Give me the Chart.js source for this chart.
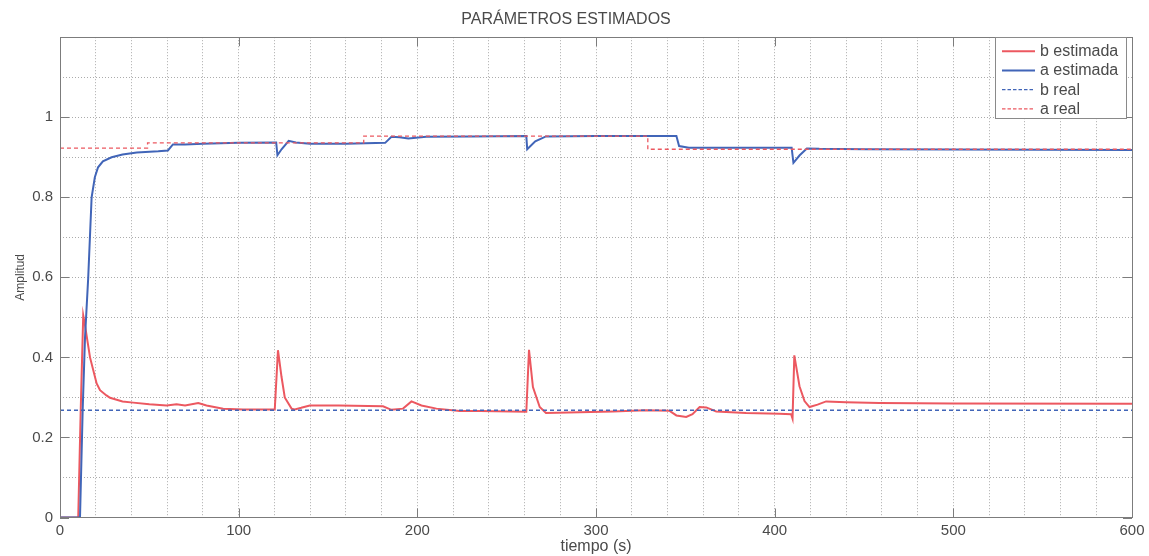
<!DOCTYPE html>
<html>
<head>
<meta charset="utf-8">
<script src="https://cdn.jsdelivr.net/npm/chart.js@4/dist/chart.umd.min.js"></script>
<style>
  html, body { margin: 0; padding: 0; background: #ffffff; }
  #wrap { width: 1149px; height: 556px; }
</style>
</head>
<body>
<div id="wrap"><canvas id="c" width="1149" height="556"></canvas></div>
<script>
// Estimated parameter b (time in s, amplitude)
const tBEst = [0, 10.2, 11.6, 13, 14, 16.8, 20.5, 22.4, 26, 28, 35, 41, 50, 59.7, 65.2, 70, 77.4, 82, 91.3, 102.5,
  120.2, 122, 124, 125.8, 129.6, 131.4, 135, 139.8, 156, 180.8, 185.5, 192, 196.7, 202.3, 210.7, 223.7, 235,
  261, 262.5, 264.7, 268.5, 272, 290.8, 309.5, 328, 341, 345, 350.5, 354, 358, 361.7, 367.3, 384, 402.7,
  409.2, 410, 411, 413.9, 416.7, 419.5, 424, 428.8, 440, 458.6, 500, 600];
const bEst = [0, 0, 0.27, 0.505, 0.48, 0.40, 0.335, 0.318, 0.305, 0.299, 0.29, 0.287, 0.283, 0.28, 0.283, 0.28, 0.286, 0.28, 0.272, 0.27,
  0.27, 0.418, 0.351, 0.30, 0.272, 0.27, 0.274, 0.28, 0.28, 0.278, 0.269, 0.272, 0.29, 0.28, 0.272, 0.266, 0.266,
  0.264, 0.419, 0.326, 0.276, 0.261, 0.263, 0.265, 0.268, 0.267, 0.255, 0.251, 0.258, 0.276, 0.275, 0.265, 0.261, 0.259,
  0.258, 0.247, 0.405, 0.328, 0.291, 0.276, 0.282, 0.29, 0.288, 0.286, 0.285, 0.284];

// Estimated parameter a
const tAEst = [0, 11.2, 12.7, 14, 15.8, 17.7, 19.5, 21.3, 24, 28.9, 35, 43, 55, 60.4, 63.2, 70, 80, 100,
  121, 121.7, 124, 128, 132, 140, 160, 182, 185.5, 190, 195, 205, 230,
  261, 261.5, 266, 272, 300, 345, 346.5, 352, 380, 409.5, 410.5, 414, 418, 425, 450, 600];
const aEst = [0, 0, 0.27, 0.45, 0.6, 0.8, 0.85, 0.875, 0.89, 0.9, 0.907, 0.912, 0.915, 0.917, 0.932, 0.932, 0.934, 0.936,
  0.937, 0.905, 0.92, 0.941, 0.937, 0.934, 0.934, 0.936, 0.951, 0.95, 0.947, 0.951, 0.952,
  0.953, 0.92, 0.94, 0.952, 0.953, 0.953, 0.928, 0.924, 0.924, 0.924, 0.886, 0.905, 0.922, 0.921, 0.92, 0.918];

// True parameter values (piecewise constant)
const tBReal = [0, 600];
const bReal = [0.268, 0.268];
const tAReal = [0, 49, 49, 170, 170, 329, 329, 600];
const aReal = [0.923, 0.923, 0.936, 0.936, 0.953, 0.953, 0.92, 0.92];

const seriesNames = ['b estimada', 'a estimada', 'b real', 'a real'];
const xTickLabels = [0, 100, 200, 300, 400, 500, 600];
const yTickLabels = [0, 0.2, 0.4, 0.6, 0.8, 1];

const RED = '#ec5860';
const BLUE = '#4165b8';
const AXIS = '#7c7c7c';
const TEXT = '#4a4a4a';
const FONT = '"Liberation Sans", Arial, Helvetica, sans-serif';

const pts = (xs, ys) => xs.map((x, i) => ({ x: x, y: ys[i] }));

const styles = [
  { color: RED, dash: [], width: 2 },
  { color: BLUE, dash: [], width: 2 },
  { color: BLUE, dash: [4, 3], width: 1.3 },
  { color: RED, dash: [4, 3], width: 1.3 }
];

const datasets = [
  { label: seriesNames[0], data: pts(tBEst, bEst), order: 3 },
  { label: seriesNames[1], data: pts(tAEst, aEst), order: 2 },
  { label: seriesNames[2], data: pts(tBReal, bReal), order: 1 },
  { label: seriesNames[3], data: pts(tAReal, aReal), order: 0 }
].map((d, i) => Object.assign(d, {
  borderColor: styles[i].color,
  borderWidth: styles[i].width,
  borderDash: styles[i].dash,
  pointRadius: 0,
  tension: 0,
  fill: false
}));

// Box around the plot area with inward tick marks at the labelled values
const boxPlugin = {
  id: 'box',
  afterDatasetsDraw(chart) {
    const { ctx, chartArea: a, scales: { x, y } } = chart;
    ctx.save();
    ctx.strokeStyle = AXIS;
    ctx.lineWidth = 1;
    ctx.setLineDash([]);
    ctx.strokeRect(Math.round(a.left) + 0.5, Math.round(a.top) + 0.5,
      Math.round(a.right - a.left), Math.round(a.bottom - a.top));
    const L = 9;
    ctx.beginPath();
    xTickLabels.forEach(v => {
      const px = Math.round(x.getPixelForValue(v)) + 0.5;
      ctx.moveTo(px, a.bottom); ctx.lineTo(px, a.bottom - L);
      ctx.moveTo(px, a.top); ctx.lineTo(px, a.top + L);
    });
    yTickLabels.forEach(v => {
      const py = Math.round(y.getPixelForValue(v)) + 0.5;
      ctx.moveTo(a.left, py); ctx.lineTo(a.left + L, py);
      ctx.moveTo(a.right, py); ctx.lineTo(a.right - L, py);
    });
    ctx.stroke();
    ctx.restore();
  }
};

// Legend box in the upper right corner of the plot
const legendPlugin = {
  id: 'boxLegend',
  afterDraw(chart) {
    const { ctx, chartArea: a } = chart;
    const bx = a.right - 137, by = a.top, bw = 131, bh = 81;
    ctx.save();
    ctx.fillStyle = '#ffffff';
    ctx.fillRect(bx, by, bw, bh);
    ctx.strokeStyle = '#8a8a8a';
    ctx.lineWidth = 1;
    ctx.strokeRect(Math.round(bx) + 0.5, Math.round(by) + 0.5, bw, bh);
    ctx.font = '16px ' + FONT;
    ctx.textBaseline = 'middle';
    ctx.textAlign = 'left';
    seriesNames.forEach((name, i) => {
      const yy = by + 14 + i * 19.2;
      ctx.beginPath();
      ctx.strokeStyle = styles[i].color;
      ctx.lineWidth = styles[i].width;
      ctx.setLineDash(styles[i].dash.length ? [3.5, 2] : []);
      ctx.moveTo(bx + 7, yy);
      ctx.lineTo(bx + 40, yy);
      ctx.stroke();
      ctx.setLineDash([]);
      ctx.fillStyle = TEXT;
      ctx.fillText(name, bx + 45, yy + 0.5);
    });
    ctx.restore();
  }
};

new Chart(document.getElementById('c'), {
  type: 'line',
  data: { datasets: datasets },
  options: {
    responsive: false,
    animation: false,
    layout: { padding: { left: 0, right: 17, top: 0, bottom: 0 } },
    plugins: {
      legend: { display: false },
      tooltip: { enabled: false },
      title: {
        display: true,
        text: 'PARÁMETROS ESTIMADOS',
        color: TEXT,
        font: { family: FONT, size: 16, weight: 'normal' },
        padding: { top: 10, bottom: 8 }
      }
    },
    scales: {
      x: {
        type: 'linear',
        min: 0, max: 600,
        afterFit(s) { s.height = 38.5; },
        ticks: {
          stepSize: 20,
          autoSkip: false,
          maxRotation: 0,
          padding: 4,
          color: TEXT,
          font: { family: FONT, size: 15 },
          callback: v => (xTickLabels.includes(v) ? String(v) : '')
        },
        grid: { color: '#ababab', lineWidth: 1, drawTicks: false },
        border: { display: false, dash: [1, 2] },
        title: {
          display: true,
          text: 'tiempo (s)',
          color: TEXT,
          font: { family: FONT, size: 16 },
          padding: { top: 0, bottom: 0 }
        }
      },
      y: {
        min: 0, max: 1.2,
        afterFit(s) { s.width = 60; },
        ticks: {
          stepSize: 0.1,
          autoSkip: false,
          padding: 7,
          color: TEXT,
          font: { family: FONT, size: 15 },
          callback: v => {
            const hit = yTickLabels.find(t => Math.abs(t - v) < 1e-6);
            return hit === undefined ? '' : String(hit);
          }
        },
        grid: { color: '#ababab', lineWidth: 1, drawTicks: false },
        border: { display: false, dash: [1, 2] },
        title: {
          display: true,
          text: 'Amplitud',
          color: TEXT,
          font: { family: FONT, size: 12 },
          padding: { top: 13, bottom: 0 }
        }
      }
    }
  },
  plugins: [boxPlugin, legendPlugin]
});
</script>
</body>
</html>
